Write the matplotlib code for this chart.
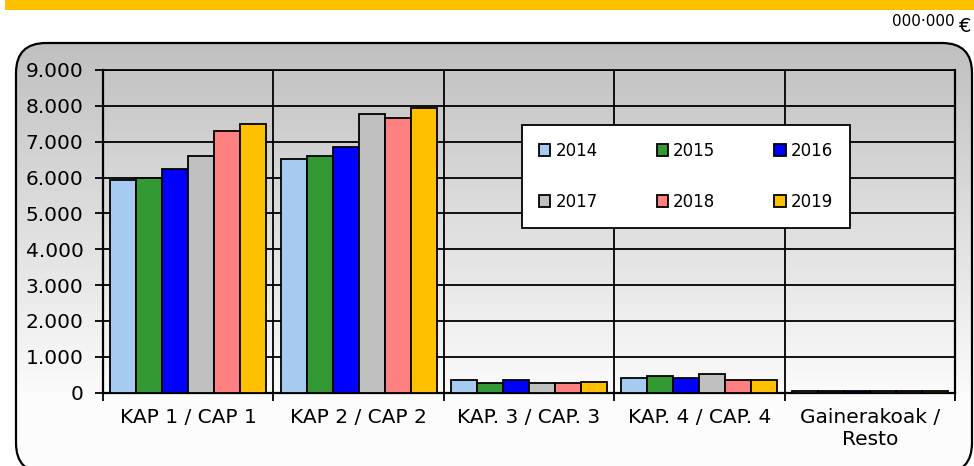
import numpy as np
import matplotlib
matplotlib.use('Agg')
import matplotlib.pyplot as plt
from matplotlib.patches import FancyBboxPatch, Rectangle
from matplotlib.ticker import FuncFormatter

# datos
categorias = ['KAP 1 / CAP 1', 'KAP 2 / CAP 2', 'KAP. 3 / CAP. 3',
              'KAP. 4 / CAP. 4', 'Gainerakoak /\nResto']
anios = ['2014', '2015', '2016', '2017', '2018', '2019']
v2014 = [5930, 6530, 350, 400, 40]
v2015 = [6000, 6600, 275, 470, 40]
v2016 = [6230, 6850, 345, 400, 40]
v2017 = [6590, 7780, 280, 530, 40]
v2018 = [7300, 7660, 280, 345, 40]
v2019 = [7480, 7950, 285, 345, 40]
colores = ['#A6CAF0', '#339933', '#0000FF', '#C0C0C0', '#FF8080', '#FFC000']

W, H = 974, 466
fig = plt.figure(figsize=(W / 100, H / 100), dpi=100)
fig.patch.set_facecolor('white')

# banda naranja superior
fig.add_artist(Rectangle((5 / W, 1 - 10 / H), 1, 10 / H, transform=fig.transFigure,
                         facecolor='#FFC000', edgecolor='none'))
fig.text(892 / W, 1 - 22 / H, '000·000', fontsize=11, va='center', ha='left')
fig.text(959 / W, 1 - 27 / H, '€', fontsize=14, va='center', ha='left')

# caja redondeada con degradado (coordenadas en pixeles, y hacia arriba)
bg = fig.add_axes([0, 0, 1, 1])
bg.set_xlim(0, W)
bg.set_ylim(0, H)
bg.axis('off')
x0, y0, bw, bh = 16, H - 473, 956, 430
caja = FancyBboxPatch((x0, y0), bw, bh, boxstyle='round,pad=0,rounding_size=30',
                      facecolor='none', edgecolor='black', linewidth=1.6, zorder=3)
bg.add_patch(caja)
grad = np.linspace(0, 1, 256).reshape(-1, 1)
gris = np.ones((256, 1, 3))
t = np.clip(grad * 1.2, 0, 1)
for i in range(3):
    gris[:, :, i] = 0.753 + (0.99 - 0.753) * t
im = bg.imshow(gris, extent=[x0, x0 + bw, y0, y0 + bh], origin='upper',
               aspect='auto', zorder=1)
im.set_clip_path(FancyBboxPatch((x0, y0), bw, bh, boxstyle='round,pad=0,rounding_size=30',
                                transform=bg.transData))

# grafico
ax = fig.add_axes([103 / W, (H - 392.6) / H, (955 - 103) / W, (392.6 - 70) / H])
ax.patch.set_alpha(0)
x = np.arange(len(categorias))
ancho = 0.1525
series = [v2014, v2015, v2016, v2017, v2018, v2019]
barras = []
for k, (vals, c, a) in enumerate(zip(series, colores, anios)):
    b = ax.bar(x + (k - 2.5) * ancho, vals, ancho, color=c, edgecolor='black',
               linewidth=1.3, label=a, zorder=3)
    barras.append(b)

ax.set_xlim(-0.5, len(categorias) - 0.5)
ax.set_ylim(0, 9000)
ax.set_yticks(np.arange(0, 9001, 1000))
ax.yaxis.set_major_formatter(FuncFormatter(lambda v, p: f'{int(v):,}'.replace(',', '.')))
ax.yaxis.grid(True, color='black', linewidth=1.3, zorder=1)
for b in np.arange(0.5, len(categorias) - 0.5, 1):
    ax.axvline(b, color='black', linewidth=1.3, zorder=1)
ax.set_xticks(x)
ax.set_xticklabels(categorias, fontsize=14.5)
ax.tick_params(axis='x', length=0, pad=11)
ax.set_xticks(np.arange(-0.5, len(categorias), 1), minor=True)
ax.tick_params(axis='x', which='minor', length=6, width=1.3, direction='out')
ax.tick_params(axis='y', labelsize=14.5, length=6, width=1.3, direction='out', pad=8)
for s in ['left', 'bottom', 'right']:
    ax.spines[s].set_linewidth(1.6)
ax.spines['top'].set_linewidth(1.3)

# leyenda en orden por filas
orden = [0, 3, 1, 4, 2, 5]
leg = fig.legend([barras[i] for i in orden], [anios[i] for i in orden],
                 loc='upper left', bbox_to_anchor=(522 / W, 1 - 228 / H, 328 / W, 103 / H),
                 mode='expand', ncol=3,
                 fontsize=12, frameon=True, fancybox=False, edgecolor='black',
                 handlelength=0.7, handleheight=0.7, handletextpad=0.3,
                 columnspacing=2.5, labelspacing=2.0, borderpad=1.0, borderaxespad=0)
leg.get_frame().set_linewidth(1.3)
leg.get_frame().set_facecolor('white')
leg.get_frame().set_alpha(1)

fig.savefig('out.png', dpi=100)
